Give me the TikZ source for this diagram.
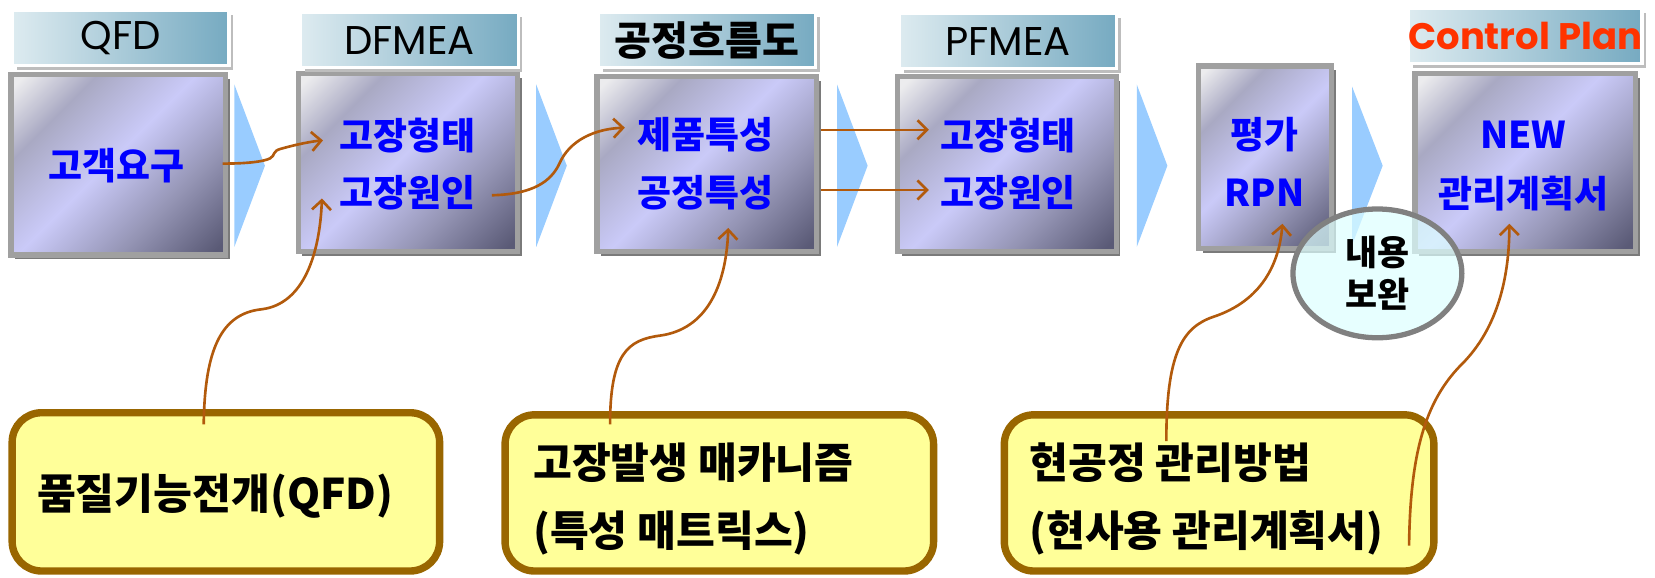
\documentclass[tikz,border=0pt]{standalone}
\usepackage{fontspec}
\setmainfont{Noto Sans CJK KR}
\newfontfamily\geo{Poppins}
\usetikzlibrary{arrows.meta,shadows,shapes.geometric}
\definecolor{bgA}{HTML}{ECECEE}
\definecolor{bgB}{HTML}{A9A9C3}
\definecolor{bgC}{HTML}{CACAF8}
\definecolor{bgD}{HTML}{9595B5}
\definecolor{bgE}{HTML}{5A5A76}
\definecolor{frameg}{HTML}{A0A0A0}
\definecolor{shadg}{HTML}{7A7A7A}
\definecolor{hdrL}{HTML}{DDEBF0}
\definecolor{hdrR}{HTML}{76AAC1}
\definecolor{hdrsh}{HTML}{BDBDBD}
\definecolor{chevc}{HTML}{99CCFF}
\definecolor{krblue}{HTML}{0000FF}
\definecolor{brownc}{HTML}{B25A0C}
\definecolor{yfill}{HTML}{FFFF99}
\definecolor{ybord}{HTML}{996600}
\definecolor{ellf}{HTML}{DDFFFF}
\definecolor{ellg}{HTML}{808080}
\definecolor{cpred}{HTML}{FF3300}
\pgfdeclarehorizontalshading{boxgrad}{100bp}{color(0bp)=(bgA); color(17bp)=(bgA); color(30bp)=(bgB); color(48bp)=(bgC); color(66bp)=(bgD); color(83bp)=(bgE); color(100bp)=(bgE)}
\tikzset{
  procbox/.style={draw=frameg, line width=5pt, shading=boxgrad, shading angle=-45, inner sep=0pt,
    drop shadow={shadow xshift=4pt, shadow yshift=-4pt, fill=shadg, opacity=1}},
  hdr/.style={left color=hdrL, right color=hdrR, draw=white, line width=3pt, inner sep=0pt,
    minimum height=52pt, font=\fontsize{38}{38}\selectfont,
    drop shadow={shadow xshift=4pt, shadow yshift=-4pt, fill=hdrsh, opacity=1}},
  btext/.style={text=krblue, font=\bfseries\fontsize{35}{35}\selectfont, inner sep=0pt},
  chev/.style={fill=chevc},
  ybox/.style={draw=ybord, fill=yfill, line width=7pt, rounded corners=28pt, inner sep=0pt},
  ytext/.style={font=\bfseries\fontsize{40}{40}\selectfont, inner sep=0pt, anchor=west},
  conn/.style={draw=brownc, line width=2.5pt, -{Straight Barb[length=9pt,width=18pt]}},
}
\begin{document}
\begin{tikzpicture}[x=1pt,y=-1pt]
\useasboundingbox (0,0) rectangle (1568,547);
% chevrons
\fill[chev] (222,80) -- (251,157) -- (222,234) -- cycle;
\fill[chev] (508,80) -- (537,157) -- (508,234) -- cycle;
\fill[chev] (793,80) -- (822,157) -- (793,234) -- cycle;
\fill[chev] (1077,80) -- (1106,157) -- (1077,234) -- cycle;
\fill[chev] (1281,82) -- (1310,157) -- (1281,232) -- cycle;
% process boxes
\node[procbox, minimum width=203pt, minimum height=171pt] (b1) at (112,156) {};
\node[procbox, minimum width=208pt, minimum height=169pt] (b2) at (386.5,154) {};
\node[procbox, minimum width=208pt, minimum height=166pt] (b3) at (669.5,155.5) {};
\node[procbox, minimum width=207pt, minimum height=166pt] (b4) at (954,155.5) {};
\node[procbox, minimum width=126pt, minimum height=173pt] (b5) at (1198.5,149) {};
\node[procbox, minimum width=209pt, minimum height=169pt] (b6) at (1445,154) {};
% headers
\node[hdr, minimum width=205pt] (h1) at (114.5,36) {\geo QFD};
\node[hdr, minimum width=206pt] (h2) at (388,38) {\geo DFMEA};
\node[hdr, minimum width=206pt] (h3) at (670,38) {\bfseries 공정흐름도};
\node[hdr, minimum width=206pt] (h4) at (955,39) {\geo PFMEA};
\node[hdr, minimum width=220pt, text=cpred, font=\fontsize{35}{35}\selectfont] (h6) at (1445,34) {\geo\bfseries Control Plan};
% box texts
\node[btext] (t1) at (110,157) {고객요구};
\node[btext] (t2a) at (386,128) {고장형태};
\node[btext] (t2b) at (386,183) {고장원인};
\node[btext] (t3a) at (668,128) {제품특성};
\node[btext] (t3b) at (668,183) {공정특성};
\node[btext] (t4a) at (955,128) {고장형태};
\node[btext] (t4b) at (955,183) {고장원인};
\node[btext] (t5a) at (1198,128) {평가};
\node[btext] (t5b) at (1198,183) {RPN};
\node[btext] (t6a) at (1443,128) {NEW};
\node[btext] (t6b) at (1443,183) {관리계획서};
% ellipse
\node[ellipse, draw=ellg, line width=5pt, fill=ellf, fill opacity=0.7, text opacity=1,
  minimum width=160pt, minimum height=122pt, inner sep=0pt, align=center,
  font=\bfseries\fontsize{33}{40}\selectfont] (el) at (1305,259) {내용\\보완};
% yellow boxes
\node[ybox, minimum width=405pt, minimum height=150pt] (y1) at (214,466) {};
\node[ybox, minimum width=406pt, minimum height=148pt] (y2) at (681.5,467) {};
\node[ybox, minimum width=407pt, minimum height=148pt] (y3) at (1155,467) {};
\node[ytext] (y1t) at (35,470) {품질기능전개(QFD)};
\node[ytext] (y2a) at (505,438) {고장발생 매카니즘};
\node[ytext] (y2b) at (505,505) {(특성 매트릭스)};
\node[ytext] (y3a) at (975,438) {현공정 관리방법};
\node[ytext] (y3b) at (975,505) {(현사용 관리계획서)};
% connector end points
\coordinate (a1s) at (211,155);
\coordinate (a1e) at (306,133);
\coordinate (a2s) at (466,185);
\coordinate (a2e) at (592,121);
\coordinate (a3s) at (778,123);
\coordinate (a3e) at (880,123);
\coordinate (a4s) at (778,180);
\coordinate (a4e) at (880,180);
\coordinate (c1s) at (193,402);
\coordinate (c1e) at (305,188);
\coordinate (c2s) at (578,402);
\coordinate (c2e) at (690,216);
\coordinate (c3s) at (1105,418);
\coordinate (c3e) at (1215,212);
\coordinate (c4s) at (1335,517);
\coordinate (c4e) at (1430,212);
% connectors
\draw[conn] (a1s) .. controls (235,155) and (250,153) .. (256,150) .. controls (261,147) and (258,143) .. (266,141) .. controls (280,137) and (295,134) .. (a1e);
\draw[conn] (a2s) .. controls (505,184) and (522,172) .. (530,155) .. controls (540,132) and (565,122) .. (a2e);
\draw[conn] (a3s) -- (a3e);
\draw[conn] (a4s) -- (a4e);
\draw[conn] (c1s) .. controls (194,330) and (210,297) .. (248,293) .. controls (288,288) and (303,240) .. (c1e);
\draw[conn] (c2s) .. controls (578,335) and (595,322) .. (625,318) .. controls (670,312) and (688,270) .. (c2e);
\draw[conn] (c3s) .. controls (1105,335) and (1120,310) .. (1150,300) .. controls (1195,285) and (1212,250) .. (c3e);
\draw[conn] (c4s) .. controls (1336,430) and (1350,380) .. (1385,345) .. controls (1420,310) and (1430,260) .. (c4e);
\end{tikzpicture}
\end{document}
